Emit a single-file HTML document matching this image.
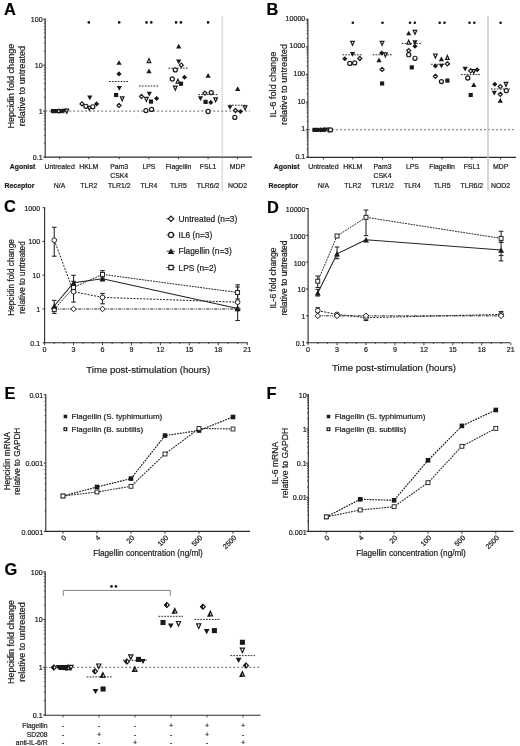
<!DOCTYPE html>
<html><head><meta charset="utf-8"><style>
html,body{margin:0;padding:0;background:#fff;}
svg{display:block;filter:grayscale(1) blur(0.3px);font-family:"Liberation Sans",sans-serif;}
text{stroke:#1a1a1a;stroke-width:0.2px;}
</style></head><body>
<svg width="520" height="746" viewBox="0 0 520 746">
<rect width="520" height="746" fill="#fff"/>
<text x="4" y="14.8" font-size="16.4" text-anchor="start" font-weight="bold" fill="#000">A</text>
<text x="266.6" y="14.8" font-size="16.4" text-anchor="start" font-weight="bold" fill="#000">B</text>
<text x="4" y="212.3" font-size="16.4" text-anchor="start" font-weight="bold" fill="#000">C</text>
<text x="267" y="212.7" font-size="16.4" text-anchor="start" font-weight="bold" fill="#000">D</text>
<text x="4.4" y="398.7" font-size="16.4" text-anchor="start" font-weight="bold" fill="#000">E</text>
<text x="266.6" y="398.8" font-size="16.4" text-anchor="start" font-weight="bold" fill="#000">F</text>
<text x="4.4" y="575.3" font-size="16.4" text-anchor="start" font-weight="bold" fill="#000">G</text>
<line x1="45.2" y1="18.6" x2="45.2" y2="157.6" stroke="#2a2a2a" stroke-width="1.1"/>
<line x1="43.2" y1="157.1" x2="45.2" y2="157.1" stroke="#2a2a2a" stroke-width="1.0"/>
<text x="42.6" y="159.7" font-size="7.1" text-anchor="end" fill="#1a1a1a">0.1</text>
<line x1="43.9" y1="143.25" x2="45.2" y2="143.25" stroke="#2a2a2a" stroke-width="0.8"/>
<line x1="43.9" y1="135.15" x2="45.2" y2="135.15" stroke="#2a2a2a" stroke-width="0.8"/>
<line x1="43.9" y1="129.41" x2="45.2" y2="129.41" stroke="#2a2a2a" stroke-width="0.8"/>
<line x1="43.9" y1="124.95" x2="45.2" y2="124.95" stroke="#2a2a2a" stroke-width="0.8"/>
<line x1="43.9" y1="121.31" x2="45.2" y2="121.31" stroke="#2a2a2a" stroke-width="0.8"/>
<line x1="43.9" y1="118.23" x2="45.2" y2="118.23" stroke="#2a2a2a" stroke-width="0.8"/>
<line x1="43.9" y1="115.56" x2="45.2" y2="115.56" stroke="#2a2a2a" stroke-width="0.8"/>
<line x1="43.9" y1="113.2" x2="45.2" y2="113.2" stroke="#2a2a2a" stroke-width="0.8"/>
<line x1="43.2" y1="111.1" x2="45.2" y2="111.1" stroke="#2a2a2a" stroke-width="1.0"/>
<text x="42.6" y="113.7" font-size="7.1" text-anchor="end" fill="#1a1a1a">1</text>
<line x1="43.9" y1="97.25" x2="45.2" y2="97.25" stroke="#2a2a2a" stroke-width="0.8"/>
<line x1="43.9" y1="89.15" x2="45.2" y2="89.15" stroke="#2a2a2a" stroke-width="0.8"/>
<line x1="43.9" y1="83.41" x2="45.2" y2="83.41" stroke="#2a2a2a" stroke-width="0.8"/>
<line x1="43.9" y1="78.95" x2="45.2" y2="78.95" stroke="#2a2a2a" stroke-width="0.8"/>
<line x1="43.9" y1="75.31" x2="45.2" y2="75.31" stroke="#2a2a2a" stroke-width="0.8"/>
<line x1="43.9" y1="72.23" x2="45.2" y2="72.23" stroke="#2a2a2a" stroke-width="0.8"/>
<line x1="43.9" y1="69.56" x2="45.2" y2="69.56" stroke="#2a2a2a" stroke-width="0.8"/>
<line x1="43.9" y1="67.2" x2="45.2" y2="67.2" stroke="#2a2a2a" stroke-width="0.8"/>
<line x1="43.2" y1="65.1" x2="45.2" y2="65.1" stroke="#2a2a2a" stroke-width="1.0"/>
<text x="42.6" y="67.7" font-size="7.1" text-anchor="end" fill="#1a1a1a">10</text>
<line x1="43.9" y1="51.25" x2="45.2" y2="51.25" stroke="#2a2a2a" stroke-width="0.8"/>
<line x1="43.9" y1="43.15" x2="45.2" y2="43.15" stroke="#2a2a2a" stroke-width="0.8"/>
<line x1="43.9" y1="37.41" x2="45.2" y2="37.41" stroke="#2a2a2a" stroke-width="0.8"/>
<line x1="43.9" y1="32.95" x2="45.2" y2="32.95" stroke="#2a2a2a" stroke-width="0.8"/>
<line x1="43.9" y1="29.31" x2="45.2" y2="29.31" stroke="#2a2a2a" stroke-width="0.8"/>
<line x1="43.9" y1="26.23" x2="45.2" y2="26.23" stroke="#2a2a2a" stroke-width="0.8"/>
<line x1="43.9" y1="23.56" x2="45.2" y2="23.56" stroke="#2a2a2a" stroke-width="0.8"/>
<line x1="43.9" y1="21.2" x2="45.2" y2="21.2" stroke="#2a2a2a" stroke-width="0.8"/>
<line x1="43.2" y1="19.1" x2="45.2" y2="19.1" stroke="#2a2a2a" stroke-width="1.0"/>
<text x="42.6" y="21.7" font-size="7.1" text-anchor="end" fill="#1a1a1a">100</text>
<line x1="44.7" y1="157.1" x2="252" y2="157.1" stroke="#2a2a2a" stroke-width="1.1"/>
<line x1="59.6" y1="157.1" x2="59.6" y2="159.2" stroke="#2a2a2a" stroke-width="0.9"/>
<line x1="88.8" y1="157.1" x2="88.8" y2="159.2" stroke="#2a2a2a" stroke-width="0.9"/>
<line x1="119.2" y1="157.1" x2="119.2" y2="159.2" stroke="#2a2a2a" stroke-width="0.9"/>
<line x1="148.9" y1="157.1" x2="148.9" y2="159.2" stroke="#2a2a2a" stroke-width="0.9"/>
<line x1="178.5" y1="157.1" x2="178.5" y2="159.2" stroke="#2a2a2a" stroke-width="0.9"/>
<line x1="208.1" y1="157.1" x2="208.1" y2="159.2" stroke="#2a2a2a" stroke-width="0.9"/>
<line x1="237.5" y1="157.1" x2="237.5" y2="159.2" stroke="#2a2a2a" stroke-width="0.9"/>
<line x1="45.2" y1="111.1" x2="250" y2="111.1" stroke="#555" stroke-width="0.9" stroke-dasharray="2,2"/>
<line x1="222.2" y1="16.3" x2="222.2" y2="190.5" stroke="#999" stroke-width="1.0" stroke-dasharray="1,1"/>
<text x="14.4" y="86.1" font-size="9.1" text-anchor="middle" fill="#1a1a1a" transform="rotate(-90 14.4 86.1)">Hepcidin fold change</text>
<text x="25.2" y="86.1" font-size="9.1" text-anchor="middle" fill="#1a1a1a" transform="rotate(-90 25.2 86.1)">relative to untreated</text>
<text x="59.6" y="169" font-size="6.9" text-anchor="middle" fill="#1a1a1a">Untreated</text>
<text x="59.6" y="188.1" font-size="6.9" text-anchor="middle" fill="#1a1a1a">N/A</text>
<text x="88.8" y="169" font-size="6.9" text-anchor="middle" fill="#1a1a1a">HKLM</text>
<text x="88.8" y="188.1" font-size="6.9" text-anchor="middle" fill="#1a1a1a">TLR2</text>
<text x="119.2" y="169" font-size="6.9" text-anchor="middle" fill="#1a1a1a">Pam3</text>
<text x="119.2" y="188.1" font-size="6.9" text-anchor="middle" fill="#1a1a1a">TLR1/2</text>
<text x="148.9" y="169" font-size="6.9" text-anchor="middle" fill="#1a1a1a">LPS</text>
<text x="148.9" y="188.1" font-size="6.9" text-anchor="middle" fill="#1a1a1a">TLR4</text>
<text x="178.5" y="169" font-size="6.9" text-anchor="middle" fill="#1a1a1a">Flagellin</text>
<text x="178.5" y="188.1" font-size="6.9" text-anchor="middle" fill="#1a1a1a">TLR5</text>
<text x="208.1" y="169" font-size="6.9" text-anchor="middle" fill="#1a1a1a">FSL1</text>
<text x="208.1" y="188.1" font-size="6.9" text-anchor="middle" fill="#1a1a1a">TLR6/2</text>
<text x="237.5" y="169" font-size="6.9" text-anchor="middle" fill="#1a1a1a">MDP</text>
<text x="237.5" y="188.1" font-size="6.9" text-anchor="middle" fill="#1a1a1a">NOD2</text>
<text x="119.2" y="177.6" font-size="6.9" text-anchor="middle" fill="#1a1a1a">CSK4</text>
<text x="35.4" y="169" font-size="6.9" text-anchor="end" font-weight="bold" fill="#1a1a1a">Agonist</text>
<text x="34.4" y="188.1" font-size="6.9" text-anchor="end" font-weight="bold" fill="#1a1a1a">Receptor</text>
<line x1="307.9" y1="18.72" x2="307.9" y2="157.82" stroke="#2a2a2a" stroke-width="1.1"/>
<line x1="305.9" y1="157.32" x2="307.9" y2="157.32" stroke="#2a2a2a" stroke-width="1.0"/>
<text x="305.3" y="158.92" font-size="7.1" text-anchor="end" fill="#1a1a1a">0.1</text>
<line x1="306.6" y1="149.01" x2="307.9" y2="149.01" stroke="#2a2a2a" stroke-width="0.8"/>
<line x1="306.6" y1="144.14" x2="307.9" y2="144.14" stroke="#2a2a2a" stroke-width="0.8"/>
<line x1="306.6" y1="140.69" x2="307.9" y2="140.69" stroke="#2a2a2a" stroke-width="0.8"/>
<line x1="306.6" y1="138.01" x2="307.9" y2="138.01" stroke="#2a2a2a" stroke-width="0.8"/>
<line x1="306.6" y1="135.83" x2="307.9" y2="135.83" stroke="#2a2a2a" stroke-width="0.8"/>
<line x1="306.6" y1="133.98" x2="307.9" y2="133.98" stroke="#2a2a2a" stroke-width="0.8"/>
<line x1="306.6" y1="132.38" x2="307.9" y2="132.38" stroke="#2a2a2a" stroke-width="0.8"/>
<line x1="306.6" y1="130.96" x2="307.9" y2="130.96" stroke="#2a2a2a" stroke-width="0.8"/>
<line x1="305.9" y1="129.7" x2="307.9" y2="129.7" stroke="#2a2a2a" stroke-width="1.0"/>
<text x="305.3" y="131.3" font-size="7.1" text-anchor="end" fill="#1a1a1a">1</text>
<line x1="306.6" y1="121.39" x2="307.9" y2="121.39" stroke="#2a2a2a" stroke-width="0.8"/>
<line x1="306.6" y1="116.52" x2="307.9" y2="116.52" stroke="#2a2a2a" stroke-width="0.8"/>
<line x1="306.6" y1="113.07" x2="307.9" y2="113.07" stroke="#2a2a2a" stroke-width="0.8"/>
<line x1="306.6" y1="110.39" x2="307.9" y2="110.39" stroke="#2a2a2a" stroke-width="0.8"/>
<line x1="306.6" y1="108.21" x2="307.9" y2="108.21" stroke="#2a2a2a" stroke-width="0.8"/>
<line x1="306.6" y1="106.36" x2="307.9" y2="106.36" stroke="#2a2a2a" stroke-width="0.8"/>
<line x1="306.6" y1="104.76" x2="307.9" y2="104.76" stroke="#2a2a2a" stroke-width="0.8"/>
<line x1="306.6" y1="103.34" x2="307.9" y2="103.34" stroke="#2a2a2a" stroke-width="0.8"/>
<line x1="305.9" y1="102.08" x2="307.9" y2="102.08" stroke="#2a2a2a" stroke-width="1.0"/>
<text x="305.3" y="103.68" font-size="7.1" text-anchor="end" fill="#1a1a1a">10</text>
<line x1="306.6" y1="93.77" x2="307.9" y2="93.77" stroke="#2a2a2a" stroke-width="0.8"/>
<line x1="306.6" y1="88.9" x2="307.9" y2="88.9" stroke="#2a2a2a" stroke-width="0.8"/>
<line x1="306.6" y1="85.45" x2="307.9" y2="85.45" stroke="#2a2a2a" stroke-width="0.8"/>
<line x1="306.6" y1="82.77" x2="307.9" y2="82.77" stroke="#2a2a2a" stroke-width="0.8"/>
<line x1="306.6" y1="80.59" x2="307.9" y2="80.59" stroke="#2a2a2a" stroke-width="0.8"/>
<line x1="306.6" y1="78.74" x2="307.9" y2="78.74" stroke="#2a2a2a" stroke-width="0.8"/>
<line x1="306.6" y1="77.14" x2="307.9" y2="77.14" stroke="#2a2a2a" stroke-width="0.8"/>
<line x1="306.6" y1="75.72" x2="307.9" y2="75.72" stroke="#2a2a2a" stroke-width="0.8"/>
<line x1="305.9" y1="74.46" x2="307.9" y2="74.46" stroke="#2a2a2a" stroke-width="1.0"/>
<text x="305.3" y="76.06" font-size="7.1" text-anchor="end" fill="#1a1a1a">100</text>
<line x1="306.6" y1="66.15" x2="307.9" y2="66.15" stroke="#2a2a2a" stroke-width="0.8"/>
<line x1="306.6" y1="61.28" x2="307.9" y2="61.28" stroke="#2a2a2a" stroke-width="0.8"/>
<line x1="306.6" y1="57.83" x2="307.9" y2="57.83" stroke="#2a2a2a" stroke-width="0.8"/>
<line x1="306.6" y1="55.15" x2="307.9" y2="55.15" stroke="#2a2a2a" stroke-width="0.8"/>
<line x1="306.6" y1="52.97" x2="307.9" y2="52.97" stroke="#2a2a2a" stroke-width="0.8"/>
<line x1="306.6" y1="51.12" x2="307.9" y2="51.12" stroke="#2a2a2a" stroke-width="0.8"/>
<line x1="306.6" y1="49.52" x2="307.9" y2="49.52" stroke="#2a2a2a" stroke-width="0.8"/>
<line x1="306.6" y1="48.1" x2="307.9" y2="48.1" stroke="#2a2a2a" stroke-width="0.8"/>
<line x1="305.9" y1="46.84" x2="307.9" y2="46.84" stroke="#2a2a2a" stroke-width="1.0"/>
<text x="305.3" y="48.44" font-size="7.1" text-anchor="end" fill="#1a1a1a">1000</text>
<line x1="306.6" y1="38.53" x2="307.9" y2="38.53" stroke="#2a2a2a" stroke-width="0.8"/>
<line x1="306.6" y1="33.66" x2="307.9" y2="33.66" stroke="#2a2a2a" stroke-width="0.8"/>
<line x1="306.6" y1="30.21" x2="307.9" y2="30.21" stroke="#2a2a2a" stroke-width="0.8"/>
<line x1="306.6" y1="27.53" x2="307.9" y2="27.53" stroke="#2a2a2a" stroke-width="0.8"/>
<line x1="306.6" y1="25.35" x2="307.9" y2="25.35" stroke="#2a2a2a" stroke-width="0.8"/>
<line x1="306.6" y1="23.5" x2="307.9" y2="23.5" stroke="#2a2a2a" stroke-width="0.8"/>
<line x1="306.6" y1="21.9" x2="307.9" y2="21.9" stroke="#2a2a2a" stroke-width="0.8"/>
<line x1="306.6" y1="20.48" x2="307.9" y2="20.48" stroke="#2a2a2a" stroke-width="0.8"/>
<line x1="305.9" y1="19.22" x2="307.9" y2="19.22" stroke="#2a2a2a" stroke-width="1.0"/>
<text x="305.3" y="20.82" font-size="7.1" text-anchor="end" fill="#1a1a1a">10000</text>
<line x1="307.4" y1="157.4" x2="516" y2="157.4" stroke="#2a2a2a" stroke-width="1.1"/>
<line x1="323.4" y1="157.4" x2="323.4" y2="159.5" stroke="#2a2a2a" stroke-width="0.9"/>
<line x1="352.8" y1="157.4" x2="352.8" y2="159.5" stroke="#2a2a2a" stroke-width="0.9"/>
<line x1="382.5" y1="157.4" x2="382.5" y2="159.5" stroke="#2a2a2a" stroke-width="0.9"/>
<line x1="412.4" y1="157.4" x2="412.4" y2="159.5" stroke="#2a2a2a" stroke-width="0.9"/>
<line x1="442.1" y1="157.4" x2="442.1" y2="159.5" stroke="#2a2a2a" stroke-width="0.9"/>
<line x1="471.9" y1="157.4" x2="471.9" y2="159.5" stroke="#2a2a2a" stroke-width="0.9"/>
<line x1="500.6" y1="157.4" x2="500.6" y2="159.5" stroke="#2a2a2a" stroke-width="0.9"/>
<line x1="307.9" y1="129.7" x2="515" y2="129.7" stroke="#555" stroke-width="0.9" stroke-dasharray="2,2"/>
<line x1="488" y1="16.3" x2="488" y2="190.5" stroke="#c8c8c8" stroke-width="1.5"/>
<text x="276" y="84.5" font-size="9.2" text-anchor="middle" fill="#1a1a1a" transform="rotate(-90 276 84.5)">IL-6 fold change</text>
<text x="287.2" y="84.5" font-size="9.2" text-anchor="middle" fill="#1a1a1a" transform="rotate(-90 287.2 84.5)">relative to untreated</text>
<text x="323.4" y="169" font-size="6.9" text-anchor="middle" fill="#1a1a1a">Untreated</text>
<text x="323.4" y="188.1" font-size="6.9" text-anchor="middle" fill="#1a1a1a">N/A</text>
<text x="352.8" y="169" font-size="6.9" text-anchor="middle" fill="#1a1a1a">HKLM</text>
<text x="352.8" y="188.1" font-size="6.9" text-anchor="middle" fill="#1a1a1a">TLR2</text>
<text x="382.5" y="169" font-size="6.9" text-anchor="middle" fill="#1a1a1a">Pam3</text>
<text x="382.5" y="188.1" font-size="6.9" text-anchor="middle" fill="#1a1a1a">TLR1/2</text>
<text x="412.4" y="169" font-size="6.9" text-anchor="middle" fill="#1a1a1a">LPS</text>
<text x="412.4" y="188.1" font-size="6.9" text-anchor="middle" fill="#1a1a1a">TLR4</text>
<text x="442.1" y="169" font-size="6.9" text-anchor="middle" fill="#1a1a1a">Flagellin</text>
<text x="442.1" y="188.1" font-size="6.9" text-anchor="middle" fill="#1a1a1a">TLR5</text>
<text x="471.9" y="169" font-size="6.9" text-anchor="middle" fill="#1a1a1a">FSL1</text>
<text x="471.9" y="188.1" font-size="6.9" text-anchor="middle" fill="#1a1a1a">TLR6/2</text>
<text x="500.6" y="169" font-size="6.9" text-anchor="middle" fill="#1a1a1a">MDP</text>
<text x="500.6" y="188.1" font-size="6.9" text-anchor="middle" fill="#1a1a1a">NOD2</text>
<text x="382.5" y="177.6" font-size="6.9" text-anchor="middle" fill="#1a1a1a">CSK4</text>
<text x="299.5" y="169" font-size="6.9" text-anchor="end" font-weight="bold" fill="#1a1a1a">Agonist</text>
<text x="298.3" y="188.1" font-size="6.9" text-anchor="end" font-weight="bold" fill="#1a1a1a">Receptor</text>
<line x1="44.6" y1="207.19" x2="44.6" y2="343.27" stroke="#2a2a2a" stroke-width="1.1"/>
<line x1="42.6" y1="342.77" x2="44.6" y2="342.77" stroke="#2a2a2a" stroke-width="1.0"/>
<text x="40.1" y="345.67" font-size="7.1" text-anchor="end" fill="#1a1a1a">0.1</text>
<line x1="42.6" y1="309" x2="44.6" y2="309" stroke="#2a2a2a" stroke-width="1.0"/>
<text x="40.1" y="311.9" font-size="7.1" text-anchor="end" fill="#1a1a1a">1</text>
<line x1="42.6" y1="275.23" x2="44.6" y2="275.23" stroke="#2a2a2a" stroke-width="1.0"/>
<text x="40.1" y="278.13" font-size="7.1" text-anchor="end" fill="#1a1a1a">10</text>
<line x1="42.6" y1="241.46" x2="44.6" y2="241.46" stroke="#2a2a2a" stroke-width="1.0"/>
<text x="40.1" y="244.36" font-size="7.1" text-anchor="end" fill="#1a1a1a">100</text>
<line x1="42.6" y1="207.69" x2="44.6" y2="207.69" stroke="#2a2a2a" stroke-width="1.0"/>
<text x="40.1" y="210.59" font-size="7.1" text-anchor="end" fill="#1a1a1a">1000</text>
<line x1="44.1" y1="342.8" x2="247.6" y2="342.8" stroke="#2a2a2a" stroke-width="1.1"/>
<line x1="44.6" y1="342.5" x2="44.6" y2="345.2" stroke="#2a2a2a" stroke-width="0.9"/>
<text x="44.6" y="352.4" font-size="7.1" text-anchor="middle" fill="#1a1a1a">0</text>
<line x1="54.25" y1="342.5" x2="54.25" y2="344" stroke="#2a2a2a" stroke-width="0.8"/>
<line x1="63.9" y1="342.5" x2="63.9" y2="344" stroke="#2a2a2a" stroke-width="0.8"/>
<line x1="73.55" y1="342.5" x2="73.55" y2="345.2" stroke="#2a2a2a" stroke-width="0.9"/>
<text x="73.55" y="352.4" font-size="7.1" text-anchor="middle" fill="#1a1a1a">3</text>
<line x1="83.2" y1="342.5" x2="83.2" y2="344" stroke="#2a2a2a" stroke-width="0.8"/>
<line x1="92.85" y1="342.5" x2="92.85" y2="344" stroke="#2a2a2a" stroke-width="0.8"/>
<line x1="102.5" y1="342.5" x2="102.5" y2="345.2" stroke="#2a2a2a" stroke-width="0.9"/>
<text x="102.5" y="352.4" font-size="7.1" text-anchor="middle" fill="#1a1a1a">6</text>
<line x1="112.15" y1="342.5" x2="112.15" y2="344" stroke="#2a2a2a" stroke-width="0.8"/>
<line x1="121.8" y1="342.5" x2="121.8" y2="344" stroke="#2a2a2a" stroke-width="0.8"/>
<line x1="131.45" y1="342.5" x2="131.45" y2="345.2" stroke="#2a2a2a" stroke-width="0.9"/>
<text x="131.45" y="352.4" font-size="7.1" text-anchor="middle" fill="#1a1a1a">9</text>
<line x1="141.1" y1="342.5" x2="141.1" y2="344" stroke="#2a2a2a" stroke-width="0.8"/>
<line x1="150.75" y1="342.5" x2="150.75" y2="344" stroke="#2a2a2a" stroke-width="0.8"/>
<line x1="160.4" y1="342.5" x2="160.4" y2="345.2" stroke="#2a2a2a" stroke-width="0.9"/>
<text x="160.4" y="352.4" font-size="7.1" text-anchor="middle" fill="#1a1a1a">12</text>
<line x1="170.05" y1="342.5" x2="170.05" y2="344" stroke="#2a2a2a" stroke-width="0.8"/>
<line x1="179.7" y1="342.5" x2="179.7" y2="344" stroke="#2a2a2a" stroke-width="0.8"/>
<line x1="189.35" y1="342.5" x2="189.35" y2="345.2" stroke="#2a2a2a" stroke-width="0.9"/>
<text x="189.35" y="352.4" font-size="7.1" text-anchor="middle" fill="#1a1a1a">15</text>
<line x1="199" y1="342.5" x2="199" y2="344" stroke="#2a2a2a" stroke-width="0.8"/>
<line x1="208.65" y1="342.5" x2="208.65" y2="344" stroke="#2a2a2a" stroke-width="0.8"/>
<line x1="218.3" y1="342.5" x2="218.3" y2="345.2" stroke="#2a2a2a" stroke-width="0.9"/>
<text x="218.3" y="352.4" font-size="7.1" text-anchor="middle" fill="#1a1a1a">18</text>
<line x1="227.95" y1="342.5" x2="227.95" y2="344" stroke="#2a2a2a" stroke-width="0.8"/>
<line x1="237.6" y1="342.5" x2="237.6" y2="344" stroke="#2a2a2a" stroke-width="0.8"/>
<line x1="247.25" y1="342.5" x2="247.25" y2="345.2" stroke="#2a2a2a" stroke-width="0.9"/>
<text x="247.25" y="352.4" font-size="7.1" text-anchor="middle" fill="#1a1a1a">21</text>
<text x="148.2" y="372.6" font-size="9.6" text-anchor="middle" fill="#1a1a1a">Time post-stimulation (hours)</text>
<text x="14" y="277.5" font-size="8.2" text-anchor="middle" fill="#1a1a1a" transform="rotate(-90 14 277.5)">Hepcidin fold change</text>
<text x="25.2" y="277.5" font-size="8.2" text-anchor="middle" fill="#1a1a1a" transform="rotate(-90 25.2 277.5)">relative to untreated</text>
<line x1="308.1" y1="207.99" x2="308.1" y2="343.19" stroke="#2a2a2a" stroke-width="1.1"/>
<line x1="306.1" y1="342.69" x2="308.1" y2="342.69" stroke="#2a2a2a" stroke-width="1.0"/>
<text x="305.5" y="346.09" font-size="7.1" text-anchor="end" fill="#1a1a1a">0.1</text>
<line x1="306.1" y1="315.85" x2="308.1" y2="315.85" stroke="#2a2a2a" stroke-width="1.0"/>
<text x="305.5" y="319.25" font-size="7.1" text-anchor="end" fill="#1a1a1a">1</text>
<line x1="306.1" y1="289.01" x2="308.1" y2="289.01" stroke="#2a2a2a" stroke-width="1.0"/>
<text x="305.5" y="292.41" font-size="7.1" text-anchor="end" fill="#1a1a1a">10</text>
<line x1="306.1" y1="262.17" x2="308.1" y2="262.17" stroke="#2a2a2a" stroke-width="1.0"/>
<text x="305.5" y="265.57" font-size="7.1" text-anchor="end" fill="#1a1a1a">100</text>
<line x1="306.1" y1="235.33" x2="308.1" y2="235.33" stroke="#2a2a2a" stroke-width="1.0"/>
<text x="305.5" y="238.73" font-size="7.1" text-anchor="end" fill="#1a1a1a">1000</text>
<line x1="306.1" y1="208.49" x2="308.1" y2="208.49" stroke="#2a2a2a" stroke-width="1.0"/>
<text x="305.5" y="211.89" font-size="7.1" text-anchor="end" fill="#1a1a1a">10000</text>
<line x1="307.6" y1="342.7" x2="510" y2="342.7" stroke="#2a2a2a" stroke-width="1.1"/>
<line x1="308.1" y1="342.5" x2="308.1" y2="345.2" stroke="#2a2a2a" stroke-width="0.9"/>
<text x="308.1" y="352.4" font-size="7.1" text-anchor="middle" fill="#1a1a1a">0</text>
<line x1="317.75" y1="342.5" x2="317.75" y2="344" stroke="#2a2a2a" stroke-width="0.8"/>
<line x1="327.4" y1="342.5" x2="327.4" y2="344" stroke="#2a2a2a" stroke-width="0.8"/>
<line x1="337.05" y1="342.5" x2="337.05" y2="345.2" stroke="#2a2a2a" stroke-width="0.9"/>
<text x="337.05" y="352.4" font-size="7.1" text-anchor="middle" fill="#1a1a1a">3</text>
<line x1="346.7" y1="342.5" x2="346.7" y2="344" stroke="#2a2a2a" stroke-width="0.8"/>
<line x1="356.35" y1="342.5" x2="356.35" y2="344" stroke="#2a2a2a" stroke-width="0.8"/>
<line x1="366" y1="342.5" x2="366" y2="345.2" stroke="#2a2a2a" stroke-width="0.9"/>
<text x="366" y="352.4" font-size="7.1" text-anchor="middle" fill="#1a1a1a">6</text>
<line x1="375.65" y1="342.5" x2="375.65" y2="344" stroke="#2a2a2a" stroke-width="0.8"/>
<line x1="385.3" y1="342.5" x2="385.3" y2="344" stroke="#2a2a2a" stroke-width="0.8"/>
<line x1="394.95" y1="342.5" x2="394.95" y2="345.2" stroke="#2a2a2a" stroke-width="0.9"/>
<text x="394.95" y="352.4" font-size="7.1" text-anchor="middle" fill="#1a1a1a">9</text>
<line x1="404.6" y1="342.5" x2="404.6" y2="344" stroke="#2a2a2a" stroke-width="0.8"/>
<line x1="414.25" y1="342.5" x2="414.25" y2="344" stroke="#2a2a2a" stroke-width="0.8"/>
<line x1="423.9" y1="342.5" x2="423.9" y2="345.2" stroke="#2a2a2a" stroke-width="0.9"/>
<text x="423.9" y="352.4" font-size="7.1" text-anchor="middle" fill="#1a1a1a">12</text>
<line x1="433.55" y1="342.5" x2="433.55" y2="344" stroke="#2a2a2a" stroke-width="0.8"/>
<line x1="443.2" y1="342.5" x2="443.2" y2="344" stroke="#2a2a2a" stroke-width="0.8"/>
<line x1="452.85" y1="342.5" x2="452.85" y2="345.2" stroke="#2a2a2a" stroke-width="0.9"/>
<text x="452.85" y="352.4" font-size="7.1" text-anchor="middle" fill="#1a1a1a">15</text>
<line x1="462.5" y1="342.5" x2="462.5" y2="344" stroke="#2a2a2a" stroke-width="0.8"/>
<line x1="472.15" y1="342.5" x2="472.15" y2="344" stroke="#2a2a2a" stroke-width="0.8"/>
<line x1="481.8" y1="342.5" x2="481.8" y2="345.2" stroke="#2a2a2a" stroke-width="0.9"/>
<text x="481.8" y="352.4" font-size="7.1" text-anchor="middle" fill="#1a1a1a">18</text>
<line x1="491.45" y1="342.5" x2="491.45" y2="344" stroke="#2a2a2a" stroke-width="0.8"/>
<line x1="501.1" y1="342.5" x2="501.1" y2="344" stroke="#2a2a2a" stroke-width="0.8"/>
<line x1="510.75" y1="342.5" x2="510.75" y2="345.2" stroke="#2a2a2a" stroke-width="0.9"/>
<text x="510.75" y="352.4" font-size="7.1" text-anchor="middle" fill="#1a1a1a">21</text>
<text x="394" y="371.2" font-size="9.6" text-anchor="middle" fill="#1a1a1a">Time post-stimulation (hours)</text>
<text x="276.3" y="278" font-size="8.5" text-anchor="middle" fill="#1a1a1a" transform="rotate(-90 276.3 278)">IL-6 fold change</text>
<text x="287.1" y="278" font-size="8.5" text-anchor="middle" fill="#1a1a1a" transform="rotate(-90 287.1 278)">relative to untreated</text>
<line x1="45.8" y1="394.3" x2="45.8" y2="531.9" stroke="#2a2a2a" stroke-width="1.1"/>
<line x1="43.8" y1="531.4" x2="45.8" y2="531.4" stroke="#2a2a2a" stroke-width="1.0"/>
<text x="43.2" y="534.5" font-size="7.1" text-anchor="end" fill="#1a1a1a">0.0001</text>
<line x1="44.5" y1="510.84" x2="45.8" y2="510.84" stroke="#2a2a2a" stroke-width="0.8"/>
<line x1="44.5" y1="498.81" x2="45.8" y2="498.81" stroke="#2a2a2a" stroke-width="0.8"/>
<line x1="44.5" y1="490.28" x2="45.8" y2="490.28" stroke="#2a2a2a" stroke-width="0.8"/>
<line x1="44.5" y1="483.66" x2="45.8" y2="483.66" stroke="#2a2a2a" stroke-width="0.8"/>
<line x1="44.5" y1="478.25" x2="45.8" y2="478.25" stroke="#2a2a2a" stroke-width="0.8"/>
<line x1="44.5" y1="473.68" x2="45.8" y2="473.68" stroke="#2a2a2a" stroke-width="0.8"/>
<line x1="44.5" y1="469.72" x2="45.8" y2="469.72" stroke="#2a2a2a" stroke-width="0.8"/>
<line x1="44.5" y1="466.23" x2="45.8" y2="466.23" stroke="#2a2a2a" stroke-width="0.8"/>
<line x1="43.8" y1="463.1" x2="45.8" y2="463.1" stroke="#2a2a2a" stroke-width="1.0"/>
<text x="43.2" y="466.2" font-size="7.1" text-anchor="end" fill="#1a1a1a">0.001</text>
<line x1="44.5" y1="442.54" x2="45.8" y2="442.54" stroke="#2a2a2a" stroke-width="0.8"/>
<line x1="44.5" y1="430.51" x2="45.8" y2="430.51" stroke="#2a2a2a" stroke-width="0.8"/>
<line x1="44.5" y1="421.98" x2="45.8" y2="421.98" stroke="#2a2a2a" stroke-width="0.8"/>
<line x1="44.5" y1="415.36" x2="45.8" y2="415.36" stroke="#2a2a2a" stroke-width="0.8"/>
<line x1="44.5" y1="409.95" x2="45.8" y2="409.95" stroke="#2a2a2a" stroke-width="0.8"/>
<line x1="44.5" y1="405.38" x2="45.8" y2="405.38" stroke="#2a2a2a" stroke-width="0.8"/>
<line x1="44.5" y1="401.42" x2="45.8" y2="401.42" stroke="#2a2a2a" stroke-width="0.8"/>
<line x1="44.5" y1="397.93" x2="45.8" y2="397.93" stroke="#2a2a2a" stroke-width="0.8"/>
<line x1="43.8" y1="394.8" x2="45.8" y2="394.8" stroke="#2a2a2a" stroke-width="1.0"/>
<text x="43.2" y="397.9" font-size="7.1" text-anchor="end" fill="#1a1a1a">0.01</text>
<line x1="45.3" y1="531.4" x2="250" y2="531.4" stroke="#2a2a2a" stroke-width="1.1"/>
<line x1="63" y1="531.4" x2="63" y2="533.7" stroke="#2a2a2a" stroke-width="0.9"/>
<text x="66.8" y="538.3" font-size="7.1" text-anchor="end" fill="#1a1a1a" transform="rotate(-45 66.8 538.3)">0</text>
<line x1="97" y1="531.4" x2="97" y2="533.7" stroke="#2a2a2a" stroke-width="0.9"/>
<text x="100.8" y="538.3" font-size="7.1" text-anchor="end" fill="#1a1a1a" transform="rotate(-45 100.8 538.3)">4</text>
<line x1="131" y1="531.4" x2="131" y2="533.7" stroke="#2a2a2a" stroke-width="0.9"/>
<text x="134.8" y="538.3" font-size="7.1" text-anchor="end" fill="#1a1a1a" transform="rotate(-45 134.8 538.3)">20</text>
<line x1="165" y1="531.4" x2="165" y2="533.7" stroke="#2a2a2a" stroke-width="0.9"/>
<text x="168.8" y="538.3" font-size="7.1" text-anchor="end" fill="#1a1a1a" transform="rotate(-45 168.8 538.3)">100</text>
<line x1="199" y1="531.4" x2="199" y2="533.7" stroke="#2a2a2a" stroke-width="0.9"/>
<text x="202.8" y="538.3" font-size="7.1" text-anchor="end" fill="#1a1a1a" transform="rotate(-45 202.8 538.3)">500</text>
<line x1="233" y1="531.4" x2="233" y2="533.7" stroke="#2a2a2a" stroke-width="0.9"/>
<text x="236.8" y="538.3" font-size="7.1" text-anchor="end" fill="#1a1a1a" transform="rotate(-45 236.8 538.3)">2500</text>
<text x="148" y="555.8" font-size="8.2" text-anchor="middle" fill="#1a1a1a">Flagellin concentration (ng/ml)</text>
<text x="10" y="461.2" font-size="8.2" text-anchor="middle" fill="#1a1a1a" transform="rotate(-90 10 461.2)">Hepcidin mRNA</text>
<text x="20" y="461.2" font-size="8.2" text-anchor="middle" fill="#1a1a1a" transform="rotate(-90 20 461.2)">relative to GAPDH</text>
<line x1="308.3" y1="394.3" x2="308.3" y2="531.9" stroke="#2a2a2a" stroke-width="1.1"/>
<line x1="306.3" y1="531.4" x2="308.3" y2="531.4" stroke="#2a2a2a" stroke-width="1.0"/>
<text x="306.6" y="534.5" font-size="7.1" text-anchor="end" fill="#1a1a1a">0.001</text>
<line x1="307" y1="521.12" x2="308.3" y2="521.12" stroke="#2a2a2a" stroke-width="0.8"/>
<line x1="307" y1="515.11" x2="308.3" y2="515.11" stroke="#2a2a2a" stroke-width="0.8"/>
<line x1="307" y1="510.84" x2="308.3" y2="510.84" stroke="#2a2a2a" stroke-width="0.8"/>
<line x1="307" y1="507.53" x2="308.3" y2="507.53" stroke="#2a2a2a" stroke-width="0.8"/>
<line x1="307" y1="504.83" x2="308.3" y2="504.83" stroke="#2a2a2a" stroke-width="0.8"/>
<line x1="307" y1="502.54" x2="308.3" y2="502.54" stroke="#2a2a2a" stroke-width="0.8"/>
<line x1="307" y1="500.56" x2="308.3" y2="500.56" stroke="#2a2a2a" stroke-width="0.8"/>
<line x1="307" y1="498.81" x2="308.3" y2="498.81" stroke="#2a2a2a" stroke-width="0.8"/>
<line x1="306.3" y1="497.25" x2="308.3" y2="497.25" stroke="#2a2a2a" stroke-width="1.0"/>
<text x="306.6" y="500.35" font-size="7.1" text-anchor="end" fill="#1a1a1a">0.01</text>
<line x1="307" y1="486.97" x2="308.3" y2="486.97" stroke="#2a2a2a" stroke-width="0.8"/>
<line x1="307" y1="480.96" x2="308.3" y2="480.96" stroke="#2a2a2a" stroke-width="0.8"/>
<line x1="307" y1="476.69" x2="308.3" y2="476.69" stroke="#2a2a2a" stroke-width="0.8"/>
<line x1="307" y1="473.38" x2="308.3" y2="473.38" stroke="#2a2a2a" stroke-width="0.8"/>
<line x1="307" y1="470.68" x2="308.3" y2="470.68" stroke="#2a2a2a" stroke-width="0.8"/>
<line x1="307" y1="468.39" x2="308.3" y2="468.39" stroke="#2a2a2a" stroke-width="0.8"/>
<line x1="307" y1="466.41" x2="308.3" y2="466.41" stroke="#2a2a2a" stroke-width="0.8"/>
<line x1="307" y1="464.66" x2="308.3" y2="464.66" stroke="#2a2a2a" stroke-width="0.8"/>
<line x1="306.3" y1="463.1" x2="308.3" y2="463.1" stroke="#2a2a2a" stroke-width="1.0"/>
<text x="306.6" y="466.2" font-size="7.1" text-anchor="end" fill="#1a1a1a">0.1</text>
<line x1="307" y1="452.82" x2="308.3" y2="452.82" stroke="#2a2a2a" stroke-width="0.8"/>
<line x1="307" y1="446.81" x2="308.3" y2="446.81" stroke="#2a2a2a" stroke-width="0.8"/>
<line x1="307" y1="442.54" x2="308.3" y2="442.54" stroke="#2a2a2a" stroke-width="0.8"/>
<line x1="307" y1="439.23" x2="308.3" y2="439.23" stroke="#2a2a2a" stroke-width="0.8"/>
<line x1="307" y1="436.53" x2="308.3" y2="436.53" stroke="#2a2a2a" stroke-width="0.8"/>
<line x1="307" y1="434.24" x2="308.3" y2="434.24" stroke="#2a2a2a" stroke-width="0.8"/>
<line x1="307" y1="432.26" x2="308.3" y2="432.26" stroke="#2a2a2a" stroke-width="0.8"/>
<line x1="307" y1="430.51" x2="308.3" y2="430.51" stroke="#2a2a2a" stroke-width="0.8"/>
<line x1="306.3" y1="428.95" x2="308.3" y2="428.95" stroke="#2a2a2a" stroke-width="1.0"/>
<text x="306.6" y="432.05" font-size="7.1" text-anchor="end" fill="#1a1a1a">1</text>
<line x1="307" y1="418.67" x2="308.3" y2="418.67" stroke="#2a2a2a" stroke-width="0.8"/>
<line x1="307" y1="412.66" x2="308.3" y2="412.66" stroke="#2a2a2a" stroke-width="0.8"/>
<line x1="307" y1="408.39" x2="308.3" y2="408.39" stroke="#2a2a2a" stroke-width="0.8"/>
<line x1="307" y1="405.08" x2="308.3" y2="405.08" stroke="#2a2a2a" stroke-width="0.8"/>
<line x1="307" y1="402.38" x2="308.3" y2="402.38" stroke="#2a2a2a" stroke-width="0.8"/>
<line x1="307" y1="400.09" x2="308.3" y2="400.09" stroke="#2a2a2a" stroke-width="0.8"/>
<line x1="307" y1="398.11" x2="308.3" y2="398.11" stroke="#2a2a2a" stroke-width="0.8"/>
<line x1="307" y1="396.36" x2="308.3" y2="396.36" stroke="#2a2a2a" stroke-width="0.8"/>
<line x1="306.3" y1="394.8" x2="308.3" y2="394.8" stroke="#2a2a2a" stroke-width="1.0"/>
<text x="306.6" y="397.9" font-size="7.1" text-anchor="end" fill="#1a1a1a">10</text>
<line x1="307.8" y1="531.4" x2="513.6" y2="531.4" stroke="#2a2a2a" stroke-width="1.1"/>
<line x1="326.3" y1="531.4" x2="326.3" y2="533.7" stroke="#2a2a2a" stroke-width="0.9"/>
<text x="330.1" y="538.3" font-size="7.1" text-anchor="end" fill="#1a1a1a" transform="rotate(-45 330.1 538.3)">0</text>
<line x1="360.2" y1="531.4" x2="360.2" y2="533.7" stroke="#2a2a2a" stroke-width="0.9"/>
<text x="364" y="538.3" font-size="7.1" text-anchor="end" fill="#1a1a1a" transform="rotate(-45 364 538.3)">4</text>
<line x1="394.1" y1="531.4" x2="394.1" y2="533.7" stroke="#2a2a2a" stroke-width="0.9"/>
<text x="397.9" y="538.3" font-size="7.1" text-anchor="end" fill="#1a1a1a" transform="rotate(-45 397.9 538.3)">20</text>
<line x1="428" y1="531.4" x2="428" y2="533.7" stroke="#2a2a2a" stroke-width="0.9"/>
<text x="431.8" y="538.3" font-size="7.1" text-anchor="end" fill="#1a1a1a" transform="rotate(-45 431.8 538.3)">100</text>
<line x1="461.9" y1="531.4" x2="461.9" y2="533.7" stroke="#2a2a2a" stroke-width="0.9"/>
<text x="465.7" y="538.3" font-size="7.1" text-anchor="end" fill="#1a1a1a" transform="rotate(-45 465.7 538.3)">500</text>
<line x1="495.8" y1="531.4" x2="495.8" y2="533.7" stroke="#2a2a2a" stroke-width="0.9"/>
<text x="499.6" y="538.3" font-size="7.1" text-anchor="end" fill="#1a1a1a" transform="rotate(-45 499.6 538.3)">2500</text>
<text x="411" y="555.8" font-size="8.2" text-anchor="middle" fill="#1a1a1a">Flagellin concentration (ng/ml)</text>
<text x="277.5" y="463" font-size="8.6" text-anchor="middle" fill="#1a1a1a" transform="rotate(-90 277.5 463)">IL-6 mRNA</text>
<text x="287.5" y="463" font-size="8.6" text-anchor="middle" fill="#1a1a1a" transform="rotate(-90 287.5 463)">relative to GAPDH</text>
<line x1="45.2" y1="571.4" x2="45.2" y2="715.5" stroke="#2a2a2a" stroke-width="1.1"/>
<line x1="43.2" y1="715" x2="45.2" y2="715" stroke="#2a2a2a" stroke-width="1.0"/>
<text x="42.6" y="717.6" font-size="7.1" text-anchor="end" fill="#1a1a1a">0.1</text>
<line x1="43.9" y1="700.64" x2="45.2" y2="700.64" stroke="#2a2a2a" stroke-width="0.8"/>
<line x1="43.9" y1="692.24" x2="45.2" y2="692.24" stroke="#2a2a2a" stroke-width="0.8"/>
<line x1="43.9" y1="686.28" x2="45.2" y2="686.28" stroke="#2a2a2a" stroke-width="0.8"/>
<line x1="43.9" y1="681.66" x2="45.2" y2="681.66" stroke="#2a2a2a" stroke-width="0.8"/>
<line x1="43.9" y1="677.88" x2="45.2" y2="677.88" stroke="#2a2a2a" stroke-width="0.8"/>
<line x1="43.9" y1="674.69" x2="45.2" y2="674.69" stroke="#2a2a2a" stroke-width="0.8"/>
<line x1="43.9" y1="671.92" x2="45.2" y2="671.92" stroke="#2a2a2a" stroke-width="0.8"/>
<line x1="43.9" y1="669.48" x2="45.2" y2="669.48" stroke="#2a2a2a" stroke-width="0.8"/>
<line x1="43.2" y1="667.3" x2="45.2" y2="667.3" stroke="#2a2a2a" stroke-width="1.0"/>
<text x="42.6" y="669.9" font-size="7.1" text-anchor="end" fill="#1a1a1a">1</text>
<line x1="43.9" y1="652.94" x2="45.2" y2="652.94" stroke="#2a2a2a" stroke-width="0.8"/>
<line x1="43.9" y1="644.54" x2="45.2" y2="644.54" stroke="#2a2a2a" stroke-width="0.8"/>
<line x1="43.9" y1="638.58" x2="45.2" y2="638.58" stroke="#2a2a2a" stroke-width="0.8"/>
<line x1="43.9" y1="633.96" x2="45.2" y2="633.96" stroke="#2a2a2a" stroke-width="0.8"/>
<line x1="43.9" y1="630.18" x2="45.2" y2="630.18" stroke="#2a2a2a" stroke-width="0.8"/>
<line x1="43.9" y1="626.99" x2="45.2" y2="626.99" stroke="#2a2a2a" stroke-width="0.8"/>
<line x1="43.9" y1="624.22" x2="45.2" y2="624.22" stroke="#2a2a2a" stroke-width="0.8"/>
<line x1="43.9" y1="621.78" x2="45.2" y2="621.78" stroke="#2a2a2a" stroke-width="0.8"/>
<line x1="43.2" y1="619.6" x2="45.2" y2="619.6" stroke="#2a2a2a" stroke-width="1.0"/>
<text x="42.6" y="622.2" font-size="7.1" text-anchor="end" fill="#1a1a1a">10</text>
<line x1="43.9" y1="605.24" x2="45.2" y2="605.24" stroke="#2a2a2a" stroke-width="0.8"/>
<line x1="43.9" y1="596.84" x2="45.2" y2="596.84" stroke="#2a2a2a" stroke-width="0.8"/>
<line x1="43.9" y1="590.88" x2="45.2" y2="590.88" stroke="#2a2a2a" stroke-width="0.8"/>
<line x1="43.9" y1="586.26" x2="45.2" y2="586.26" stroke="#2a2a2a" stroke-width="0.8"/>
<line x1="43.9" y1="582.48" x2="45.2" y2="582.48" stroke="#2a2a2a" stroke-width="0.8"/>
<line x1="43.9" y1="579.29" x2="45.2" y2="579.29" stroke="#2a2a2a" stroke-width="0.8"/>
<line x1="43.9" y1="576.52" x2="45.2" y2="576.52" stroke="#2a2a2a" stroke-width="0.8"/>
<line x1="43.9" y1="574.08" x2="45.2" y2="574.08" stroke="#2a2a2a" stroke-width="0.8"/>
<line x1="43.2" y1="571.9" x2="45.2" y2="571.9" stroke="#2a2a2a" stroke-width="1.0"/>
<text x="42.6" y="574.5" font-size="7.1" text-anchor="end" fill="#1a1a1a">100</text>
<line x1="44.7" y1="715.2" x2="260.5" y2="715.2" stroke="#2a2a2a" stroke-width="1.1"/>
<line x1="63" y1="715.2" x2="63" y2="717.4" stroke="#2a2a2a" stroke-width="0.9"/>
<line x1="99" y1="715.2" x2="99" y2="717.4" stroke="#2a2a2a" stroke-width="0.9"/>
<line x1="135" y1="715.2" x2="135" y2="717.4" stroke="#2a2a2a" stroke-width="0.9"/>
<line x1="171" y1="715.2" x2="171" y2="717.4" stroke="#2a2a2a" stroke-width="0.9"/>
<line x1="207" y1="715.2" x2="207" y2="717.4" stroke="#2a2a2a" stroke-width="0.9"/>
<line x1="243" y1="715.2" x2="243" y2="717.4" stroke="#2a2a2a" stroke-width="0.9"/>
<line x1="45.2" y1="667.3" x2="260" y2="667.3" stroke="#555" stroke-width="0.9" stroke-dasharray="2,2"/>
<text x="13.8" y="642" font-size="9.0" text-anchor="middle" fill="#1a1a1a" transform="rotate(-90 13.8 642)">Hepcidin fold change</text>
<text x="25" y="642" font-size="9.0" text-anchor="middle" fill="#1a1a1a" transform="rotate(-90 25 642)">relative to untreated</text>
<text x="47.6" y="728" font-size="6.8" text-anchor="end" fill="#1a1a1a">Flagellin</text>
<text x="63" y="728" font-size="7.2" text-anchor="middle" fill="#1a1a1a">-</text>
<text x="99" y="728" font-size="7.2" text-anchor="middle" fill="#1a1a1a">-</text>
<text x="135" y="728" font-size="7.2" text-anchor="middle" fill="#1a1a1a">-</text>
<text x="171" y="728" font-size="7.2" text-anchor="middle" fill="#1a1a1a">+</text>
<text x="207" y="728" font-size="7.2" text-anchor="middle" fill="#1a1a1a">+</text>
<text x="243" y="728" font-size="7.2" text-anchor="middle" fill="#1a1a1a">+</text>
<text x="47.6" y="736.6" font-size="6.8" text-anchor="end" fill="#1a1a1a">SD208</text>
<text x="63" y="736.6" font-size="7.2" text-anchor="middle" fill="#1a1a1a">-</text>
<text x="99" y="736.6" font-size="7.2" text-anchor="middle" fill="#1a1a1a">+</text>
<text x="135" y="736.6" font-size="7.2" text-anchor="middle" fill="#1a1a1a">-</text>
<text x="171" y="736.6" font-size="7.2" text-anchor="middle" fill="#1a1a1a">-</text>
<text x="207" y="736.6" font-size="7.2" text-anchor="middle" fill="#1a1a1a">+</text>
<text x="243" y="736.6" font-size="7.2" text-anchor="middle" fill="#1a1a1a">-</text>
<text x="47.6" y="745.2" font-size="6.8" text-anchor="end" fill="#1a1a1a">anti-IL-6/R</text>
<text x="63" y="745.2" font-size="7.2" text-anchor="middle" fill="#1a1a1a">-</text>
<text x="99" y="745.2" font-size="7.2" text-anchor="middle" fill="#1a1a1a">-</text>
<text x="135" y="745.2" font-size="7.2" text-anchor="middle" fill="#1a1a1a">+</text>
<text x="171" y="745.2" font-size="7.2" text-anchor="middle" fill="#1a1a1a">-</text>
<text x="207" y="745.2" font-size="7.2" text-anchor="middle" fill="#1a1a1a">-</text>
<text x="243" y="745.2" font-size="7.2" text-anchor="middle" fill="#1a1a1a">+</text>
<polyline points="63.3,595.8 63.3,590.4 170.3,590.4 170.3,595.8" fill="none" stroke="#777" stroke-width="0.9"/>
<circle cx="111.5" cy="586.4" r="1.3" fill="#111"/>
<circle cx="115.9" cy="586.4" r="1.3" fill="#111"/>
<line x1="109" y1="81.5" x2="129" y2="81.5" stroke="#2a2a2a" stroke-width="1.0" stroke-dasharray="1.7,1.2"/>
<line x1="139" y1="86" x2="158.8" y2="86" stroke="#2a2a2a" stroke-width="1.0" stroke-dasharray="1.7,1.2"/>
<line x1="168.4" y1="68.2" x2="188.3" y2="68.2" stroke="#2a2a2a" stroke-width="1.0" stroke-dasharray="1.7,1.2"/>
<line x1="198.3" y1="94.6" x2="217.4" y2="94.6" stroke="#2a2a2a" stroke-width="1.0" stroke-dasharray="1.7,1.2"/>
<line x1="229.2" y1="105.2" x2="246.9" y2="105.2" stroke="#2a2a2a" stroke-width="1.0" stroke-dasharray="1.7,1.2"/>
<rect x="50.91" y="109.01" width="4.17" height="4.17" fill="#1a1a1a"/>
<rect x="53.91" y="109.01" width="4.17" height="4.17" fill="#1a1a1a"/>
<polygon points="59,109.06 61.04,111.1 59,113.14 56.96,111.1" fill="#fff" stroke="#1a1a1a" stroke-width="1.2"/>
<rect x="59.41" y="109.01" width="4.17" height="4.17" fill="#1a1a1a"/>
<polygon points="64,113.45 66.62,108.75 61.38,108.75" fill="#1a1a1a"/>
<polygon points="66.8,113.17 68.6,109.18 65,109.18" fill="#fff" stroke="#1a1a1a" stroke-width="1.2"/>
<polygon points="89.8,100.15 92.42,95.45 87.18,95.45" fill="#1a1a1a"/>
<polygon points="82,101.86 84.04,103.9 82,105.94 79.96,103.9" fill="#fff" stroke="#1a1a1a" stroke-width="1.2"/>
<circle cx="85.9" cy="106.3" r="2.04" fill="#fff" stroke="#1a1a1a" stroke-width="1.2"/>
<polygon points="89.3,110.27 91.1,106.28 87.5,106.28" fill="#fff" stroke="#1a1a1a" stroke-width="1.2"/>
<circle cx="92.8" cy="106.8" r="2.04" fill="#fff" stroke="#1a1a1a" stroke-width="1.2"/>
<polygon points="96.6,101.33 99.17,103.9 96.6,106.47 94.03,103.9" fill="#1a1a1a"/>
<polygon points="119,60.15 121.62,64.85 116.38,64.85" fill="#1a1a1a"/>
<polygon points="119,71.33 121.57,73.9 119,76.47 116.43,73.9" fill="#1a1a1a"/>
<polygon points="119.3,90.75 121.92,86.05 116.68,86.05" fill="#1a1a1a"/>
<rect x="114.01" y="92.91" width="4.17" height="4.17" fill="#1a1a1a"/>
<polygon points="122.2,100.87 124,96.88 120.4,96.88" fill="#fff" stroke="#1a1a1a" stroke-width="1.2"/>
<polygon points="119,103.36 121.04,105.4 119,107.44 116.96,105.4" fill="#fff" stroke="#1a1a1a" stroke-width="1.2"/>
<polygon points="149,58.63 150.8,62.62 147.2,62.62" fill="#fff" stroke="#1a1a1a" stroke-width="1.2"/>
<polygon points="149,68.45 151.62,73.15 146.38,73.15" fill="#1a1a1a"/>
<polygon points="149.3,96.45 151.92,91.75 146.68,91.75" fill="#1a1a1a"/>
<polygon points="141.5,94.36 143.54,96.4 141.5,98.44 139.46,96.4" fill="#fff" stroke="#1a1a1a" stroke-width="1.2"/>
<polygon points="146.4,101.37 148.2,97.38 144.6,97.38" fill="#fff" stroke="#1a1a1a" stroke-width="1.2"/>
<rect x="148.91" y="99.51" width="4.17" height="4.17" fill="#1a1a1a"/>
<polygon points="156.6,95.93 159.17,98.5 156.6,101.07 154.03,98.5" fill="#1a1a1a"/>
<circle cx="145.9" cy="110.6" r="2.04" fill="#fff" stroke="#1a1a1a" stroke-width="1.2"/>
<circle cx="151.6" cy="109.4" r="2.04" fill="#fff" stroke="#1a1a1a" stroke-width="1.2"/>
<polygon points="178.7,43.85 181.32,48.55 176.08,48.55" fill="#1a1a1a"/>
<polygon points="178.7,64.15 181.32,59.45 176.08,59.45" fill="#1a1a1a"/>
<polygon points="181.3,63.16 183.34,65.2 181.3,67.24 179.26,65.2" fill="#fff" stroke="#1a1a1a" stroke-width="1.2"/>
<circle cx="175.3" cy="69.9" r="2.04" fill="#fff" stroke="#1a1a1a" stroke-width="1.2"/>
<circle cx="172.3" cy="79" r="2.04" fill="#fff" stroke="#1a1a1a" stroke-width="1.2"/>
<polygon points="177.9,79.13 179.7,83.12 176.1,83.12" fill="#fff" stroke="#1a1a1a" stroke-width="1.2"/>
<polygon points="184.5,74.73 187.07,77.3 184.5,79.87 181.93,77.3" fill="#1a1a1a"/>
<rect x="178.91" y="81.61" width="4.17" height="4.17" fill="#1a1a1a"/>
<polygon points="175.3,90.17 177.1,86.18 173.5,86.18" fill="#fff" stroke="#1a1a1a" stroke-width="1.2"/>
<polygon points="208.1,73.05 210.72,77.75 205.48,77.75" fill="#1a1a1a"/>
<polygon points="204.9,91.06 206.94,93.1 204.9,95.14 202.86,93.1" fill="#fff" stroke="#1a1a1a" stroke-width="1.2"/>
<circle cx="211.2" cy="92.6" r="2.04" fill="#fff" stroke="#1a1a1a" stroke-width="1.2"/>
<polygon points="200.5,101.05 203.12,96.35 197.88,96.35" fill="#1a1a1a"/>
<rect x="203.51" y="99.81" width="4.17" height="4.17" fill="#1a1a1a"/>
<polygon points="210.8,99.83 213.37,102.4 210.8,104.97 208.23,102.4" fill="#1a1a1a"/>
<polygon points="215.6,101.77 217.4,97.78 213.8,97.78" fill="#fff" stroke="#1a1a1a" stroke-width="1.2"/>
<circle cx="208.1" cy="111.5" r="2.04" fill="#fff" stroke="#1a1a1a" stroke-width="1.2"/>
<polygon points="237.7,86.35 240.32,91.05 235.08,91.05" fill="#1a1a1a"/>
<polygon points="230,109.85 232.62,105.15 227.38,105.15" fill="#1a1a1a"/>
<polygon points="235.5,108.46 237.54,110.5 235.5,112.54 233.46,110.5" fill="#fff" stroke="#1a1a1a" stroke-width="1.2"/>
<polygon points="240.5,108.93 243.07,111.5 240.5,114.07 237.93,111.5" fill="#1a1a1a"/>
<polygon points="245.1,109.87 246.9,105.88 243.3,105.88" fill="#fff" stroke="#1a1a1a" stroke-width="1.2"/>
<circle cx="234.8" cy="117.4" r="2.04" fill="#fff" stroke="#1a1a1a" stroke-width="1.2"/>
<circle cx="88.8" cy="22.4" r="1.3" fill="#111"/>
<circle cx="119.2" cy="22.4" r="1.3" fill="#111"/>
<circle cx="146.5" cy="22.4" r="1.3" fill="#111"/>
<circle cx="151.3" cy="22.4" r="1.3" fill="#111"/>
<circle cx="176.1" cy="22.4" r="1.3" fill="#111"/>
<circle cx="180.9" cy="22.4" r="1.3" fill="#111"/>
<circle cx="208.1" cy="22.4" r="1.3" fill="#111"/>
<line x1="342.5" y1="54.8" x2="362.5" y2="54.8" stroke="#2a2a2a" stroke-width="1.0" stroke-dasharray="1.7,1.2"/>
<line x1="372.6" y1="54.8" x2="392.3" y2="54.8" stroke="#2a2a2a" stroke-width="1.0" stroke-dasharray="1.7,1.2"/>
<line x1="401.7" y1="43.4" x2="421.4" y2="43.4" stroke="#2a2a2a" stroke-width="1.0" stroke-dasharray="1.7,1.2"/>
<line x1="431" y1="64.3" x2="450.8" y2="64.3" stroke="#2a2a2a" stroke-width="1.0" stroke-dasharray="1.7,1.2"/>
<line x1="461" y1="74.6" x2="480.3" y2="74.6" stroke="#2a2a2a" stroke-width="1.0" stroke-dasharray="1.7,1.2"/>
<line x1="491" y1="89" x2="511" y2="89" stroke="#2a2a2a" stroke-width="1.0" stroke-dasharray="1.7,1.2"/>
<rect x="312.41" y="127.81" width="4.17" height="4.17" fill="#1a1a1a"/>
<rect x="315.41" y="127.81" width="4.17" height="4.17" fill="#1a1a1a"/>
<polygon points="320.5,127.33 323.07,129.9 320.5,132.47 317.93,129.9" fill="#1a1a1a"/>
<rect x="320.91" y="127.81" width="4.17" height="4.17" fill="#1a1a1a"/>
<polygon points="325.5,132.25 328.12,127.55 322.88,127.55" fill="#1a1a1a"/>
<polygon points="328.5,127.86 330.54,129.9 328.5,131.94 326.46,129.9" fill="#fff" stroke="#1a1a1a" stroke-width="1.2"/>
<circle cx="330.5" cy="129.9" r="2.04" fill="#fff" stroke="#1a1a1a" stroke-width="1.2"/>
<polygon points="352.5,45.37 354.3,41.38 350.7,41.38" fill="#fff" stroke="#1a1a1a" stroke-width="1.2"/>
<polygon points="352.5,56.65 355.12,51.95 349.88,51.95" fill="#1a1a1a"/>
<polygon points="344.8,56.23 347.37,58.8 344.8,61.37 342.23,58.8" fill="#1a1a1a"/>
<circle cx="349.8" cy="63.4" r="2.04" fill="#fff" stroke="#1a1a1a" stroke-width="1.2"/>
<circle cx="354.7" cy="62.9" r="2.04" fill="#fff" stroke="#1a1a1a" stroke-width="1.2"/>
<polygon points="359.8,56.46 361.84,58.5 359.8,60.54 357.76,58.5" fill="#fff" stroke="#1a1a1a" stroke-width="1.2"/>
<polygon points="382.1,45.37 383.9,41.38 380.3,41.38" fill="#fff" stroke="#1a1a1a" stroke-width="1.2"/>
<polygon points="381.7,50.43 384.27,53 381.7,55.57 379.13,53" fill="#1a1a1a"/>
<polygon points="385.4,56.87 387.2,52.88 383.6,52.88" fill="#fff" stroke="#1a1a1a" stroke-width="1.2"/>
<polygon points="379,57.45 381.62,62.15 376.38,62.15" fill="#1a1a1a"/>
<polygon points="382.1,67.36 384.14,69.4 382.1,71.44 380.06,69.4" fill="#fff" stroke="#1a1a1a" stroke-width="1.2"/>
<rect x="380.01" y="81.41" width="4.17" height="4.17" fill="#1a1a1a"/>
<polygon points="408.7,30.65 411.32,35.35 406.08,35.35" fill="#1a1a1a"/>
<polygon points="415,34.37 416.8,30.38 413.2,30.38" fill="#fff" stroke="#1a1a1a" stroke-width="1.2"/>
<polygon points="408.7,40.13 410.5,44.12 406.9,44.12" fill="#fff" stroke="#1a1a1a" stroke-width="1.2"/>
<polygon points="415,44.95 417.62,40.25 412.38,40.25" fill="#1a1a1a"/>
<polygon points="415,43.73 417.57,46.3 415,48.87 412.43,46.3" fill="#1a1a1a"/>
<polygon points="408.7,48.56 410.74,50.6 408.7,52.64 406.66,50.6" fill="#fff" stroke="#1a1a1a" stroke-width="1.2"/>
<circle cx="408.7" cy="54.7" r="2.04" fill="#fff" stroke="#1a1a1a" stroke-width="1.2"/>
<circle cx="415" cy="58.3" r="2.04" fill="#fff" stroke="#1a1a1a" stroke-width="1.2"/>
<rect x="409.71" y="65.31" width="4.17" height="4.17" fill="#1a1a1a"/>
<polygon points="435.4,57.97 437.2,53.98 433.6,53.98" fill="#fff" stroke="#1a1a1a" stroke-width="1.2"/>
<polygon points="441.4,56.45 444.02,61.15 438.78,61.15" fill="#1a1a1a"/>
<polygon points="447.4,55.43 449.2,59.42 445.6,59.42" fill="#fff" stroke="#1a1a1a" stroke-width="1.2"/>
<polygon points="435.4,63.43 437.97,66 435.4,68.57 432.83,66" fill="#1a1a1a"/>
<polygon points="441.4,68.35 444.02,63.65 438.78,63.65" fill="#1a1a1a"/>
<polygon points="447.4,61.76 449.44,63.8 447.4,65.84 445.36,63.8" fill="#fff" stroke="#1a1a1a" stroke-width="1.2"/>
<polygon points="435.4,74.26 437.44,76.3 435.4,78.34 433.36,76.3" fill="#fff" stroke="#1a1a1a" stroke-width="1.2"/>
<circle cx="441.4" cy="81.6" r="2.04" fill="#fff" stroke="#1a1a1a" stroke-width="1.2"/>
<rect x="445.31" y="78.51" width="4.17" height="4.17" fill="#1a1a1a"/>
<polygon points="465.2,71.45 467.82,66.75 462.58,66.75" fill="#1a1a1a"/>
<polygon points="470.7,68.76 472.74,70.8 470.7,72.84 468.66,70.8" fill="#fff" stroke="#1a1a1a" stroke-width="1.2"/>
<polygon points="473.8,73.57 475.6,69.58 472,69.58" fill="#fff" stroke="#1a1a1a" stroke-width="1.2"/>
<polygon points="477.2,67.23 479.77,69.8 477.2,72.37 474.63,69.8" fill="#1a1a1a"/>
<circle cx="467.8" cy="78" r="2.04" fill="#fff" stroke="#1a1a1a" stroke-width="1.2"/>
<polygon points="473.8,82.35 476.42,87.05 471.18,87.05" fill="#1a1a1a"/>
<rect x="468.61" y="92.91" width="4.17" height="4.17" fill="#1a1a1a"/>
<polygon points="494.8,81.63 497.37,84.2 494.8,86.77 492.23,84.2" fill="#1a1a1a"/>
<polygon points="500.3,84.56 502.34,86.6 500.3,88.64 498.26,86.6" fill="#fff" stroke="#1a1a1a" stroke-width="1.2"/>
<polygon points="506,86.27 507.8,82.28 504.2,82.28" fill="#fff" stroke="#1a1a1a" stroke-width="1.2"/>
<polygon points="494.3,95.45 496.92,90.75 491.68,90.75" fill="#1a1a1a"/>
<polygon points="500.3,92.26 502.34,94.3 500.3,96.34 498.26,94.3" fill="#fff" stroke="#1a1a1a" stroke-width="1.2"/>
<circle cx="506.3" cy="90.7" r="2.04" fill="#fff" stroke="#1a1a1a" stroke-width="1.2"/>
<polygon points="500.3,97.95 502.92,102.65 497.68,102.65" fill="#1a1a1a"/>
<circle cx="352.8" cy="22.7" r="1.3" fill="#111"/>
<circle cx="382.5" cy="22.7" r="1.3" fill="#111"/>
<circle cx="410" cy="22.7" r="1.3" fill="#111"/>
<circle cx="414.8" cy="22.7" r="1.3" fill="#111"/>
<circle cx="439.7" cy="22.7" r="1.3" fill="#111"/>
<circle cx="444.5" cy="22.7" r="1.3" fill="#111"/>
<circle cx="469.5" cy="22.7" r="1.3" fill="#111"/>
<circle cx="474.3" cy="22.7" r="1.3" fill="#111"/>
<circle cx="500.6" cy="22.7" r="1.3" fill="#111"/>
<line x1="54.25" y1="227.3" x2="54.25" y2="256.2" stroke="#2a2a2a" stroke-width="1.1"/>
<line x1="51.95" y1="227.3" x2="56.55" y2="227.3" stroke="#2a2a2a" stroke-width="1.1"/>
<line x1="51.95" y1="256.2" x2="56.55" y2="256.2" stroke="#2a2a2a" stroke-width="1.1"/>
<line x1="73.55" y1="281.3" x2="73.55" y2="302.1" stroke="#2a2a2a" stroke-width="1.1"/>
<line x1="71.25" y1="281.3" x2="75.85" y2="281.3" stroke="#2a2a2a" stroke-width="1.1"/>
<line x1="71.25" y1="302.1" x2="75.85" y2="302.1" stroke="#2a2a2a" stroke-width="1.1"/>
<line x1="102.5" y1="293.5" x2="102.5" y2="303.8" stroke="#2a2a2a" stroke-width="1.1"/>
<line x1="100.2" y1="293.5" x2="104.8" y2="293.5" stroke="#2a2a2a" stroke-width="1.1"/>
<line x1="100.2" y1="303.8" x2="104.8" y2="303.8" stroke="#2a2a2a" stroke-width="1.1"/>
<line x1="54.25" y1="300.4" x2="54.25" y2="313.4" stroke="#2a2a2a" stroke-width="1.1"/>
<line x1="51.95" y1="300.4" x2="56.55" y2="300.4" stroke="#2a2a2a" stroke-width="1.1"/>
<line x1="51.95" y1="313.4" x2="56.55" y2="313.4" stroke="#2a2a2a" stroke-width="1.1"/>
<line x1="73.55" y1="275.3" x2="73.55" y2="290" stroke="#2a2a2a" stroke-width="1.1"/>
<line x1="71.25" y1="275.3" x2="75.85" y2="275.3" stroke="#2a2a2a" stroke-width="1.1"/>
<line x1="71.25" y1="290" x2="75.85" y2="290" stroke="#2a2a2a" stroke-width="1.1"/>
<line x1="102.5" y1="270.6" x2="102.5" y2="278" stroke="#2a2a2a" stroke-width="1.1"/>
<line x1="100.2" y1="270.6" x2="104.8" y2="270.6" stroke="#2a2a2a" stroke-width="1.1"/>
<line x1="100.2" y1="278" x2="104.8" y2="278" stroke="#2a2a2a" stroke-width="1.1"/>
<line x1="237.6" y1="284.8" x2="237.6" y2="320.5" stroke="#2a2a2a" stroke-width="1.1"/>
<line x1="235.3" y1="284.8" x2="239.9" y2="284.8" stroke="#2a2a2a" stroke-width="1.1"/>
<line x1="235.3" y1="320.5" x2="239.9" y2="320.5" stroke="#2a2a2a" stroke-width="1.1"/>
<line x1="237.6" y1="287" x2="237.6" y2="299" stroke="#2a2a2a" stroke-width="1.1"/>
<line x1="235.3" y1="287" x2="239.9" y2="287" stroke="#2a2a2a" stroke-width="1.1"/>
<line x1="235.3" y1="299" x2="239.9" y2="299" stroke="#2a2a2a" stroke-width="1.1"/>
<polyline points="54.25,309 73.55,309 102.5,309 237.6,309" fill="none" stroke="#1a1a1a" stroke-width="1.0" stroke-dasharray="3,1,1,1,1,1"/>
<polyline points="54.25,240.2 73.55,291.7 102.5,297.4 237.6,302.2" fill="none" stroke="#222" stroke-width="1.0" stroke-dasharray="2,1.3"/>
<polyline points="54.25,309.4 73.55,287.4 102.5,274.4 237.6,292.5" fill="none" stroke="#222" stroke-width="1.0" stroke-dasharray="1.8,1"/>
<polyline points="54.25,306 73.55,282.7 102.5,278.7 237.6,308.5" fill="none" stroke="#222" stroke-width="1.1"/>
<circle cx="54.25" cy="240.2" r="2.36" fill="#fff" stroke="#1a1a1a" stroke-width="0.95"/>
<circle cx="73.55" cy="291.7" r="2.36" fill="#fff" stroke="#1a1a1a" stroke-width="0.95"/>
<circle cx="102.5" cy="297.4" r="2.36" fill="#fff" stroke="#1a1a1a" stroke-width="0.95"/>
<circle cx="237.6" cy="302.2" r="2.36" fill="#fff" stroke="#1a1a1a" stroke-width="0.95"/>
<polygon points="54.25,306.21 57.04,309 54.25,311.79 51.46,309" fill="#fff" stroke="#1a1a1a" stroke-width="1.0"/>
<polygon points="73.55,306.21 76.34,309 73.55,311.79 70.76,309" fill="#fff" stroke="#1a1a1a" stroke-width="1.0"/>
<polygon points="102.5,306.21 105.29,309 102.5,311.79 99.71,309" fill="#fff" stroke="#1a1a1a" stroke-width="1.0"/>
<polygon points="237.6,306.21 240.39,309 237.6,311.79 234.81,309" fill="#fff" stroke="#1a1a1a" stroke-width="1.0"/>
<rect x="52.28" y="307.43" width="3.94" height="3.94" fill="#fff" stroke="#1a1a1a" stroke-width="0.95"/>
<rect x="71.58" y="285.43" width="3.94" height="3.94" fill="#fff" stroke="#1a1a1a" stroke-width="0.95"/>
<rect x="100.53" y="272.43" width="3.94" height="3.94" fill="#fff" stroke="#1a1a1a" stroke-width="0.95"/>
<rect x="235.63" y="290.53" width="3.94" height="3.94" fill="#fff" stroke="#1a1a1a" stroke-width="0.95"/>
<polygon points="54.25,303.32 57.24,308.68 51.26,308.68" fill="#1a1a1a"/>
<polygon points="73.55,280.02 76.54,285.38 70.56,285.38" fill="#1a1a1a"/>
<polygon points="102.5,276.02 105.49,281.38 99.51,281.38" fill="#1a1a1a"/>
<polygon points="237.6,305.82 240.59,311.18 234.61,311.18" fill="#1a1a1a"/>
<line x1="166.5" y1="218.8" x2="175" y2="218.8" stroke="#333" stroke-width="0.9" stroke-dasharray="3,1,1,1,1,1"/>
<polygon points="171,216.15 173.65,218.8 171,221.45 168.35,218.8" fill="#fff" stroke="#1a1a1a" stroke-width="1.2"/>
<text x="178.6" y="221.8" font-size="8.35" text-anchor="start" fill="#1a1a1a">Untreated (n=3)</text>
<line x1="166.5" y1="234.9" x2="175" y2="234.9" stroke="#333" stroke-width="0.9" stroke-dasharray="2,1.3"/>
<circle cx="171" cy="234.9" r="2.48" fill="#fff" stroke="#1a1a1a" stroke-width="1.2"/>
<text x="178.6" y="237.9" font-size="8.35" text-anchor="start" fill="#1a1a1a">IL6 (n=3)</text>
<line x1="166.5" y1="251.2" x2="175" y2="251.2" stroke="#333" stroke-width="0.9"/>
<polygon points="171,248.34 174.19,254.06 167.81,254.06" fill="#1a1a1a"/>
<text x="178.6" y="254.2" font-size="8.35" text-anchor="start" fill="#1a1a1a">Flagellin (n=3)</text>
<line x1="166.5" y1="267.5" x2="175" y2="267.5" stroke="#333" stroke-width="0.9" stroke-dasharray="2.2,1.3"/>
<rect x="168.87" y="265.37" width="4.26" height="4.26" fill="#fff" stroke="#1a1a1a" stroke-width="1.2"/>
<text x="178.6" y="270.5" font-size="8.35" text-anchor="start" fill="#1a1a1a">LPS (n=2)</text>
<line x1="317.75" y1="276" x2="317.75" y2="287.5" stroke="#2a2a2a" stroke-width="1.1"/>
<line x1="315.45" y1="276" x2="320.05" y2="276" stroke="#2a2a2a" stroke-width="1.1"/>
<line x1="315.45" y1="287.5" x2="320.05" y2="287.5" stroke="#2a2a2a" stroke-width="1.1"/>
<line x1="366" y1="210" x2="366" y2="235.6" stroke="#2a2a2a" stroke-width="1.1"/>
<line x1="363.7" y1="210" x2="368.3" y2="210" stroke="#2a2a2a" stroke-width="1.1"/>
<line x1="363.7" y1="235.6" x2="368.3" y2="235.6" stroke="#2a2a2a" stroke-width="1.1"/>
<line x1="501.1" y1="231.3" x2="501.1" y2="242.3" stroke="#2a2a2a" stroke-width="1.1"/>
<line x1="498.8" y1="231.3" x2="503.4" y2="231.3" stroke="#2a2a2a" stroke-width="1.1"/>
<line x1="498.8" y1="242.3" x2="503.4" y2="242.3" stroke="#2a2a2a" stroke-width="1.1"/>
<line x1="317.75" y1="289.4" x2="317.75" y2="296" stroke="#2a2a2a" stroke-width="1.1"/>
<line x1="315.45" y1="289.4" x2="320.05" y2="289.4" stroke="#2a2a2a" stroke-width="1.1"/>
<line x1="315.45" y1="296" x2="320.05" y2="296" stroke="#2a2a2a" stroke-width="1.1"/>
<line x1="337.05" y1="247" x2="337.05" y2="258.7" stroke="#2a2a2a" stroke-width="1.1"/>
<line x1="334.75" y1="247" x2="339.35" y2="247" stroke="#2a2a2a" stroke-width="1.1"/>
<line x1="334.75" y1="258.7" x2="339.35" y2="258.7" stroke="#2a2a2a" stroke-width="1.1"/>
<line x1="501.1" y1="242.3" x2="501.1" y2="260.9" stroke="#2a2a2a" stroke-width="1.1"/>
<line x1="498.8" y1="242.3" x2="503.4" y2="242.3" stroke="#2a2a2a" stroke-width="1.1"/>
<line x1="498.8" y1="260.9" x2="503.4" y2="260.9" stroke="#2a2a2a" stroke-width="1.1"/>
<line x1="498.8" y1="255.5" x2="503.4" y2="255.5" stroke="#2a2a2a" stroke-width="1.1"/>
<line x1="317.75" y1="307.7" x2="317.75" y2="312" stroke="#2a2a2a" stroke-width="1.1"/>
<line x1="315.45" y1="307.7" x2="320.05" y2="307.7" stroke="#2a2a2a" stroke-width="1.1"/>
<line x1="315.45" y1="312" x2="320.05" y2="312" stroke="#2a2a2a" stroke-width="1.1"/>
<line x1="366" y1="315" x2="366" y2="320.5" stroke="#2a2a2a" stroke-width="1.1"/>
<line x1="363.7" y1="315" x2="368.3" y2="315" stroke="#2a2a2a" stroke-width="1.1"/>
<line x1="363.7" y1="320.5" x2="368.3" y2="320.5" stroke="#2a2a2a" stroke-width="1.1"/>
<line x1="501.1" y1="311.5" x2="501.1" y2="316.5" stroke="#2a2a2a" stroke-width="1.1"/>
<line x1="498.8" y1="311.5" x2="503.4" y2="311.5" stroke="#2a2a2a" stroke-width="1.1"/>
<line x1="498.8" y1="316.5" x2="503.4" y2="316.5" stroke="#2a2a2a" stroke-width="1.1"/>
<polyline points="317.75,315.85 337.05,315.85 366,315.85 501.1,315.85" fill="none" stroke="#1a1a1a" stroke-width="1.0" stroke-dasharray="3,1,1,1,1,1"/>
<polyline points="317.75,310.6 337.05,314.4 366,317.7 501.1,314.4" fill="none" stroke="#222" stroke-width="1.0" stroke-dasharray="2,1.3"/>
<polyline points="317.75,281.2 337.05,236 366,217.3 501.1,238.4" fill="none" stroke="#222" stroke-width="1.0" stroke-dasharray="1.8,1"/>
<polyline points="317.75,292.9 337.05,253.8 366,239.8 501.1,250" fill="none" stroke="#222" stroke-width="1.1"/>
<circle cx="317.75" cy="310.6" r="2.36" fill="#fff" stroke="#1a1a1a" stroke-width="0.95"/>
<circle cx="337.05" cy="314.4" r="2.36" fill="#fff" stroke="#1a1a1a" stroke-width="0.95"/>
<circle cx="366" cy="317.7" r="2.36" fill="#fff" stroke="#1a1a1a" stroke-width="0.95"/>
<circle cx="501.1" cy="314.4" r="2.36" fill="#fff" stroke="#1a1a1a" stroke-width="0.95"/>
<polygon points="317.75,313.06 320.54,315.85 317.75,318.64 314.96,315.85" fill="#fff" stroke="#1a1a1a" stroke-width="1.0"/>
<polygon points="337.05,313.06 339.84,315.85 337.05,318.64 334.26,315.85" fill="#fff" stroke="#1a1a1a" stroke-width="1.0"/>
<polygon points="366,313.06 368.79,315.85 366,318.64 363.21,315.85" fill="#fff" stroke="#1a1a1a" stroke-width="1.0"/>
<polygon points="501.1,313.06 503.89,315.85 501.1,318.64 498.31,315.85" fill="#fff" stroke="#1a1a1a" stroke-width="1.0"/>
<rect x="315.78" y="279.23" width="3.94" height="3.94" fill="#fff" stroke="#1a1a1a" stroke-width="0.95"/>
<rect x="335.08" y="234.03" width="3.94" height="3.94" fill="#fff" stroke="#1a1a1a" stroke-width="0.95"/>
<rect x="364.03" y="215.33" width="3.94" height="3.94" fill="#fff" stroke="#1a1a1a" stroke-width="0.95"/>
<rect x="499.13" y="236.43" width="3.94" height="3.94" fill="#fff" stroke="#1a1a1a" stroke-width="0.95"/>
<polygon points="317.75,290.22 320.74,295.58 314.76,295.58" fill="#1a1a1a"/>
<polygon points="337.05,251.12 340.04,256.48 334.06,256.48" fill="#1a1a1a"/>
<polygon points="366,237.12 368.99,242.48 363.01,242.48" fill="#1a1a1a"/>
<polygon points="501.1,247.32 504.09,252.68 498.11,252.68" fill="#1a1a1a"/>
<polyline points="63,496 97,492 131,486.3 165,454 199,428.4 233,429" fill="none" stroke="#2a2a2a" stroke-width="1.1" stroke-dasharray="1.8,1"/>
<polyline points="63,496 97,487 131,478.6 165,435.6 199,430.5 233,417" fill="none" stroke="#1a1a1a" stroke-width="1.15" stroke-dasharray="1.8,1"/>
<rect x="60.7" y="493.7" width="4.6" height="4.6" fill="#1a1a1a"/>
<rect x="94.7" y="484.7" width="4.6" height="4.6" fill="#1a1a1a"/>
<rect x="128.7" y="476.3" width="4.6" height="4.6" fill="#1a1a1a"/>
<rect x="162.7" y="433.3" width="4.6" height="4.6" fill="#1a1a1a"/>
<rect x="196.7" y="428.2" width="4.6" height="4.6" fill="#1a1a1a"/>
<rect x="230.7" y="414.7" width="4.6" height="4.6" fill="#1a1a1a"/>
<rect x="61.05" y="494.05" width="3.9" height="3.9" fill="#fff" stroke="#1a1a1a" stroke-width="0.9"/>
<rect x="95.05" y="490.05" width="3.9" height="3.9" fill="#fff" stroke="#1a1a1a" stroke-width="0.9"/>
<rect x="129.05" y="484.35" width="3.9" height="3.9" fill="#fff" stroke="#1a1a1a" stroke-width="0.9"/>
<rect x="163.05" y="452.05" width="3.9" height="3.9" fill="#fff" stroke="#1a1a1a" stroke-width="0.9"/>
<rect x="197.05" y="426.45" width="3.9" height="3.9" fill="#fff" stroke="#1a1a1a" stroke-width="0.9"/>
<rect x="231.05" y="427.05" width="3.9" height="3.9" fill="#fff" stroke="#1a1a1a" stroke-width="0.9"/>
<rect x="63.65" y="414.75" width="3.51" height="3.51" fill="#1a1a1a"/>
<text x="71.6" y="419.4" font-size="8.0" text-anchor="start" fill="#1a1a1a">Flagellin (S. typhimurium)</text>
<rect x="64.03" y="427.83" width="2.73" height="2.73" fill="#fff" stroke="#1a1a1a" stroke-width="1.2"/>
<text x="71.6" y="432.1" font-size="8.0" text-anchor="start" fill="#1a1a1a">Flagellin (B. subtilis)</text>
<polyline points="326.3,516.9 360.2,510 394.1,506.7 428,482.7 461.9,446.3 495.8,428.4" fill="none" stroke="#2a2a2a" stroke-width="1.1" stroke-dasharray="1.8,1"/>
<polyline points="326.3,516.9 360.2,499.3 394.1,500.3 428,460.3 461.9,425.9 495.8,410" fill="none" stroke="#1a1a1a" stroke-width="1.15" stroke-dasharray="1.8,1"/>
<rect x="324" y="514.6" width="4.6" height="4.6" fill="#1a1a1a"/>
<rect x="357.9" y="497" width="4.6" height="4.6" fill="#1a1a1a"/>
<rect x="391.8" y="498" width="4.6" height="4.6" fill="#1a1a1a"/>
<rect x="425.7" y="458" width="4.6" height="4.6" fill="#1a1a1a"/>
<rect x="459.6" y="423.6" width="4.6" height="4.6" fill="#1a1a1a"/>
<rect x="493.5" y="407.7" width="4.6" height="4.6" fill="#1a1a1a"/>
<rect x="324.35" y="514.95" width="3.9" height="3.9" fill="#fff" stroke="#1a1a1a" stroke-width="0.9"/>
<rect x="358.25" y="508.05" width="3.9" height="3.9" fill="#fff" stroke="#1a1a1a" stroke-width="0.9"/>
<rect x="392.15" y="504.75" width="3.9" height="3.9" fill="#fff" stroke="#1a1a1a" stroke-width="0.9"/>
<rect x="426.05" y="480.75" width="3.9" height="3.9" fill="#fff" stroke="#1a1a1a" stroke-width="0.9"/>
<rect x="459.95" y="444.35" width="3.9" height="3.9" fill="#fff" stroke="#1a1a1a" stroke-width="0.9"/>
<rect x="493.85" y="426.45" width="3.9" height="3.9" fill="#fff" stroke="#1a1a1a" stroke-width="0.9"/>
<rect x="326.75" y="414.75" width="3.51" height="3.51" fill="#1a1a1a"/>
<text x="334.7" y="419.4" font-size="8.0" text-anchor="start" fill="#1a1a1a">Flagellin (S. typhimurium)</text>
<rect x="327.13" y="427.83" width="2.73" height="2.73" fill="#fff" stroke="#1a1a1a" stroke-width="1.2"/>
<text x="334.7" y="432.1" font-size="8.0" text-anchor="start" fill="#1a1a1a">Flagellin (B. subtilis)</text>
<line x1="86.7" y1="676.9" x2="111.6" y2="676.9" stroke="#2a2a2a" stroke-width="1.0" stroke-dasharray="1.7,1.2"/>
<line x1="123" y1="660.3" x2="147" y2="660.3" stroke="#2a2a2a" stroke-width="1.0" stroke-dasharray="1.7,1.2"/>
<line x1="158.5" y1="616.3" x2="183" y2="616.3" stroke="#2a2a2a" stroke-width="1.0" stroke-dasharray="1.7,1.2"/>
<line x1="194.5" y1="619.4" x2="219.4" y2="619.4" stroke="#2a2a2a" stroke-width="1.0" stroke-dasharray="1.7,1.2"/>
<line x1="230.4" y1="655.6" x2="254.9" y2="655.6" stroke="#2a2a2a" stroke-width="1.0" stroke-dasharray="1.7,1.2"/>
<polygon points="54,665.17 56.33,667.5 54,669.83 51.67,667.5" fill="#fff" stroke="#1a1a1a" stroke-width="1.2"/>
<polygon points="54,664.33 54,670.67 50.83,667.5" fill="#1a1a1a"/>
<polygon points="58.5,670.1 61.39,664.9 55.61,664.9" fill="#1a1a1a"/>
<rect x="58.97" y="664.97" width="5.07" height="5.07" fill="#1a1a1a"/>
<rect x="61.47" y="664.97" width="5.07" height="5.07" fill="#1a1a1a"/>
<polygon points="66,670.1 68.89,664.9 63.11,664.9" fill="#1a1a1a"/>
<polygon points="68,665.16 70.1,669.69 65.9,669.69" fill="#fff" stroke="#1a1a1a" stroke-width="1.2"/>
<polygon points="68,664.59 68,670.41 64.76,670.41" fill="#1a1a1a"/>
<polygon points="71,669.84 73.1,665.31 68.9,665.31" fill="#fff" stroke="#1a1a1a" stroke-width="1.2"/>
<polygon points="98.8,668.54 100.9,664.01 96.7,664.01" fill="#fff" stroke="#1a1a1a" stroke-width="1.2"/>
<polygon points="95.1,668.97 97.43,671.3 95.1,673.63 92.77,671.3" fill="#fff" stroke="#1a1a1a" stroke-width="1.2"/>
<polygon points="95.1,668.13 95.1,674.47 91.93,671.3" fill="#1a1a1a"/>
<polygon points="102.9,672.56 105,677.09 100.8,677.09" fill="#fff" stroke="#1a1a1a" stroke-width="1.2"/>
<polygon points="102.9,671.99 102.9,677.81 99.66,677.81" fill="#1a1a1a"/>
<polygon points="95.5,694.1 98.39,688.9 92.61,688.9" fill="#1a1a1a"/>
<rect x="100.56" y="686.47" width="5.07" height="5.07" fill="#1a1a1a"/>
<polygon points="130.8,659.34 132.9,654.81 128.7,654.81" fill="#fff" stroke="#1a1a1a" stroke-width="1.2"/>
<polygon points="127,659.17 129.33,661.5 127,663.83 124.67,661.5" fill="#fff" stroke="#1a1a1a" stroke-width="1.2"/>
<polygon points="127,658.33 127,664.67 123.83,661.5" fill="#1a1a1a"/>
<rect x="135.97" y="656.87" width="5.07" height="5.07" fill="#1a1a1a"/>
<polygon points="143,664.1 145.89,658.9 140.11,658.9" fill="#1a1a1a"/>
<polygon points="134.8,666.86 136.9,671.39 132.7,671.39" fill="#fff" stroke="#1a1a1a" stroke-width="1.2"/>
<polygon points="134.8,666.29 134.8,672.11 131.56,672.11" fill="#1a1a1a"/>
<polygon points="167,602.67 169.33,605 167,607.33 164.67,605" fill="#fff" stroke="#1a1a1a" stroke-width="1.2"/>
<polygon points="167,601.83 167,608.17 163.83,605" fill="#1a1a1a"/>
<polygon points="174.8,608.46 176.9,612.99 172.7,612.99" fill="#fff" stroke="#1a1a1a" stroke-width="1.2"/>
<polygon points="174.8,607.89 174.8,613.71 171.56,613.71" fill="#1a1a1a"/>
<rect x="160.47" y="619.97" width="5.07" height="5.07" fill="#1a1a1a"/>
<polygon points="170.8,628.6 173.69,623.4 167.91,623.4" fill="#1a1a1a"/>
<polygon points="178.5,626.04 180.6,621.51 176.4,621.51" fill="#fff" stroke="#1a1a1a" stroke-width="1.2"/>
<polygon points="203,604.37 205.33,606.7 203,609.03 200.67,606.7" fill="#fff" stroke="#1a1a1a" stroke-width="1.2"/>
<polygon points="203,603.53 203,609.87 199.83,606.7" fill="#1a1a1a"/>
<polygon points="210.4,611.26 212.5,615.79 208.3,615.79" fill="#fff" stroke="#1a1a1a" stroke-width="1.2"/>
<polygon points="210.4,610.69 210.4,616.51 207.16,616.51" fill="#1a1a1a"/>
<polygon points="198.7,628.44 200.8,623.91 196.6,623.91" fill="#fff" stroke="#1a1a1a" stroke-width="1.2"/>
<polygon points="206.7,634.2 209.59,629 203.81,629" fill="#1a1a1a"/>
<rect x="211.87" y="628.07" width="5.07" height="5.07" fill="#1a1a1a"/>
<rect x="239.87" y="639.76" width="5.07" height="5.07" fill="#1a1a1a"/>
<polygon points="242.4,652.64 244.5,648.11 240.3,648.11" fill="#fff" stroke="#1a1a1a" stroke-width="1.2"/>
<polygon points="238.6,662.9 241.49,657.7 235.71,657.7" fill="#1a1a1a"/>
<polygon points="246.1,663.17 248.43,665.5 246.1,667.83 243.77,665.5" fill="#fff" stroke="#1a1a1a" stroke-width="1.2"/>
<polygon points="246.1,662.33 246.1,668.67 242.93,665.5" fill="#1a1a1a"/>
<polygon points="242.4,671.66 244.5,676.19 240.3,676.19" fill="#fff" stroke="#1a1a1a" stroke-width="1.2"/>
<polygon points="242.4,671.09 242.4,676.91 239.16,676.91" fill="#1a1a1a"/>
</svg>
</body></html>
